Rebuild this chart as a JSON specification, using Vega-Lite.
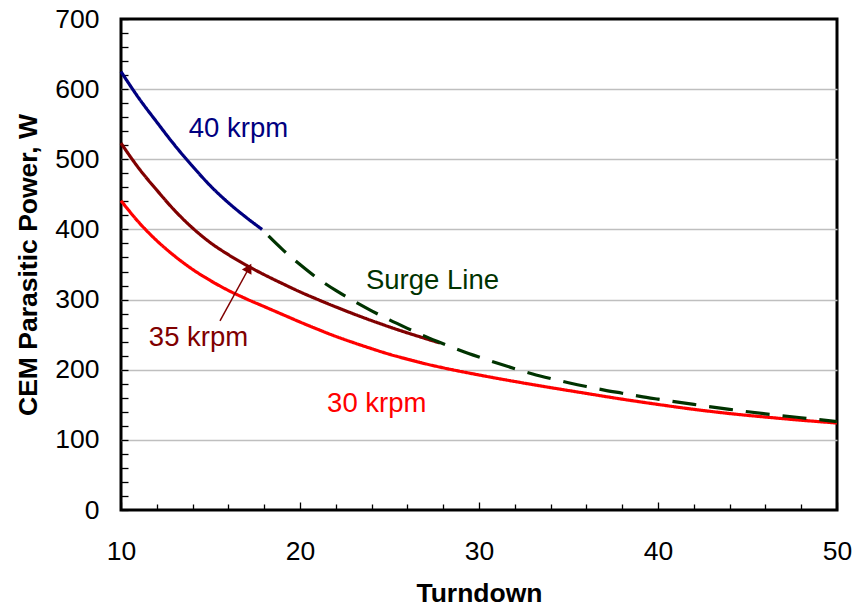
{
  "$schema": "https://vega.github.io/schema/vega-lite/v6.json",
  "autosize": "none",
  "width": 716,
  "height": 491,
  "padding": {"left": 121, "top": 19, "right": 27, "bottom": 97},
  "background": "white",
  "config": {
    "view": {"stroke": "black", "strokeWidth": 3},
    "font": "Liberation Sans",
    "axis": {
      "domain": false,
      "tickColor": "black",
      "tickWidth": 1.3,
      "labelColor": "black",
      "labelFont": "Liberation Sans",
      "labelFontSize": 26.5,
      "labelOverlap": false,
      "labelFlush": false,
      "titleFont": "Liberation Sans",
      "titleFontSize": 26.5,
      "titleFontWeight": "bold",
      "titleColor": "black"
    }
  },
  "datasets": {
    "curves": [
      {"series": "40 krpm", "x": 10, "y": 625},
      {"series": "40 krpm", "x": 11, "y": 587},
      {"series": "40 krpm", "x": 12, "y": 553},
      {"series": "40 krpm", "x": 13, "y": 520},
      {"series": "40 krpm", "x": 14, "y": 490},
      {"series": "40 krpm", "x": 15, "y": 462},
      {"series": "40 krpm", "x": 16, "y": 438},
      {"series": "40 krpm", "x": 17, "y": 417},
      {"series": "40 krpm", "x": 17.88, "y": 400},
      {"series": "35 krpm", "x": 10, "y": 523},
      {"series": "35 krpm", "x": 11, "y": 487},
      {"series": "35 krpm", "x": 12, "y": 456},
      {"series": "35 krpm", "x": 13, "y": 427},
      {"series": "35 krpm", "x": 14, "y": 402},
      {"series": "35 krpm", "x": 15, "y": 381},
      {"series": "35 krpm", "x": 16, "y": 364},
      {"series": "35 krpm", "x": 17, "y": 349},
      {"series": "35 krpm", "x": 18, "y": 335.5},
      {"series": "35 krpm", "x": 19, "y": 323},
      {"series": "35 krpm", "x": 20, "y": 311},
      {"series": "35 krpm", "x": 21, "y": 300},
      {"series": "35 krpm", "x": 22, "y": 289.5},
      {"series": "35 krpm", "x": 23, "y": 279.5},
      {"series": "35 krpm", "x": 24, "y": 270},
      {"series": "35 krpm", "x": 25, "y": 261},
      {"series": "35 krpm", "x": 26, "y": 252.5},
      {"series": "35 krpm", "x": 27, "y": 244.5},
      {"series": "35 krpm", "x": 27.82, "y": 238},
      {"series": "30 krpm", "x": 10, "y": 441},
      {"series": "30 krpm", "x": 11, "y": 410},
      {"series": "30 krpm", "x": 12, "y": 384},
      {"series": "30 krpm", "x": 13, "y": 362},
      {"series": "30 krpm", "x": 14, "y": 343},
      {"series": "30 krpm", "x": 15, "y": 327},
      {"series": "30 krpm", "x": 16, "y": 313},
      {"series": "30 krpm", "x": 17, "y": 301},
      {"series": "30 krpm", "x": 18, "y": 290},
      {"series": "30 krpm", "x": 19, "y": 279},
      {"series": "30 krpm", "x": 20, "y": 268},
      {"series": "30 krpm", "x": 21, "y": 257.5},
      {"series": "30 krpm", "x": 22, "y": 247.5},
      {"series": "30 krpm", "x": 23, "y": 238.5},
      {"series": "30 krpm", "x": 24, "y": 230},
      {"series": "30 krpm", "x": 25, "y": 222},
      {"series": "30 krpm", "x": 26, "y": 215},
      {"series": "30 krpm", "x": 27, "y": 208.5},
      {"series": "30 krpm", "x": 28, "y": 202.7},
      {"series": "30 krpm", "x": 30, "y": 192.5},
      {"series": "30 krpm", "x": 32, "y": 183.2},
      {"series": "30 krpm", "x": 34, "y": 174.5},
      {"series": "30 krpm", "x": 36, "y": 166.2},
      {"series": "30 krpm", "x": 38, "y": 158},
      {"series": "30 krpm", "x": 40, "y": 150.5},
      {"series": "30 krpm", "x": 42, "y": 143.5},
      {"series": "30 krpm", "x": 44, "y": 137.5},
      {"series": "30 krpm", "x": 46, "y": 132.5},
      {"series": "30 krpm", "x": 48, "y": 128},
      {"series": "30 krpm", "x": 50, "y": 124},
      {"series": "Surge Line", "x": 17.88, "y": 400},
      {"series": "Surge Line", "x": 19, "y": 372},
      {"series": "Surge Line", "x": 20, "y": 350},
      {"series": "Surge Line", "x": 21, "y": 330},
      {"series": "Surge Line", "x": 22, "y": 313},
      {"series": "Surge Line", "x": 23, "y": 298},
      {"series": "Surge Line", "x": 24, "y": 284},
      {"series": "Surge Line", "x": 25, "y": 271},
      {"series": "Surge Line", "x": 26, "y": 259},
      {"series": "Surge Line", "x": 27, "y": 247.5},
      {"series": "Surge Line", "x": 28, "y": 237},
      {"series": "Surge Line", "x": 29, "y": 227},
      {"series": "Surge Line", "x": 30, "y": 218},
      {"series": "Surge Line", "x": 31, "y": 209.5},
      {"series": "Surge Line", "x": 32, "y": 201.5},
      {"series": "Surge Line", "x": 33, "y": 194},
      {"series": "Surge Line", "x": 34, "y": 187.5},
      {"series": "Surge Line", "x": 35, "y": 181.5},
      {"series": "Surge Line", "x": 36, "y": 176},
      {"series": "Surge Line", "x": 37, "y": 171},
      {"series": "Surge Line", "x": 38, "y": 166.5},
      {"series": "Surge Line", "x": 39, "y": 162},
      {"series": "Surge Line", "x": 40, "y": 158},
      {"series": "Surge Line", "x": 42, "y": 150.5},
      {"series": "Surge Line", "x": 44, "y": 143.5},
      {"series": "Surge Line", "x": 46, "y": 137},
      {"series": "Surge Line", "x": 48, "y": 131.5},
      {"series": "Surge Line", "x": 50, "y": 126}
    ],
    "labels": [
      {"series": "40 krpm", "x": 16.56, "y": 531.6},
      {"series": "Surge Line", "x": 27.4, "y": 315.4},
      {"series": "35 krpm", "x": 14.33, "y": 234.2},
      {"series": "30 krpm", "x": 24.29, "y": 139.7}
    ],
    "arrow": [
      {"x": 15.53, "y": 269.5, "x2": 17.15, "y2": 345}
    ]
  },
  "encoding": {
    "x": {
      "field": "x",
      "type": "quantitative",
      "scale": {"domain": [10, 50], "nice": false, "zero": false},
      "axis": {
        "title": "Turndown",
        "values": [10, 12, 14, 16, 18, 20, 22, 24, 26, 28, 30, 32, 34, 36, 38, 40, 42, 44, 46, 48, 50],
        "labelExpr": "datum.value % 10 === 0 ? datum.label : ''",
        "tickSize": {"condition": {"test": "datum.value % 10 === 0", "value": -8}, "value": -6},
        "labelPadding": 36,
        "titlePadding": 14,
        "grid": false
      }
    },
    "y": {
      "field": "y",
      "type": "quantitative",
      "scale": {"domain": [0, 700], "nice": false},
      "axis": {
        "title": "CEM Parasitic Power, W",
        "values": [0, 20, 40, 60, 80, 100, 120, 140, 160, 180, 200, 220, 240, 260, 280, 300, 320, 340, 360, 380, 400, 420, 440, 460, 480, 500, 520, 540, 560, 580, 600, 620, 640, 660, 680, 700],
        "labelExpr": "datum.value % 100 === 0 ? datum.label : ''",
        "tickSize": -7,
        "labelPadding": 29,
        "titlePadding": 12,
        "grid": true,
        "gridColor": "#BFBFBF",
        "gridWidth": 1.3,
        "gridOpacity": {"condition": {"test": "datum.value % 100 === 0 && datum.value > 0 && datum.value < 700", "value": 1}, "value": 0}
      }
    }
  },
  "layer": [
    {
      "data": {"name": "curves"},
      "mark": {"type": "line", "strokeWidth": 3.2, "interpolate": "monotone", "strokeDashOffset": 28},
      "encoding": {
        "color": {
          "field": "series",
          "type": "nominal",
          "scale": {"domain": ["40 krpm", "35 krpm", "30 krpm", "Surge Line"], "range": ["#000080", "#800000", "#FF0000", "#003300"]},
          "legend": null
        },
        "strokeDash": {
          "field": "series",
          "type": "nominal",
          "scale": {"domain": ["40 krpm", "35 krpm", "30 krpm", "Surge Line"], "range": [[1, 0], [1, 0], [1, 0], [24, 13]]},
          "legend": null
        }
      }
    },
    {
      "data": {"name": "labels"},
      "mark": {"type": "text", "fontSize": 27.5, "font": "Liberation Sans", "align": "center", "baseline": "alphabetic"},
      "encoding": {
        "text": {"field": "series", "type": "nominal"},
        "color": {"field": "series", "type": "nominal", "legend": null}
      }
    },
    {
      "data": {"name": "arrow"},
      "mark": {"type": "rule", "color": "#800000", "strokeWidth": 1.5},
      "encoding": {
        "x2": {"field": "x2"},
        "y2": {"field": "y2"}
      }
    },
    {
      "data": {"name": "arrow"},
      "mark": {"type": "point", "shape": "triangle-up", "filled": true, "opacity": 1, "color": "#800000", "size": 120, "angle": 29},
      "encoding": {
        "x": {"field": "x2", "type": "quantitative"},
        "y": {"field": "y2", "type": "quantitative"}
      }
    }
  ]
}
